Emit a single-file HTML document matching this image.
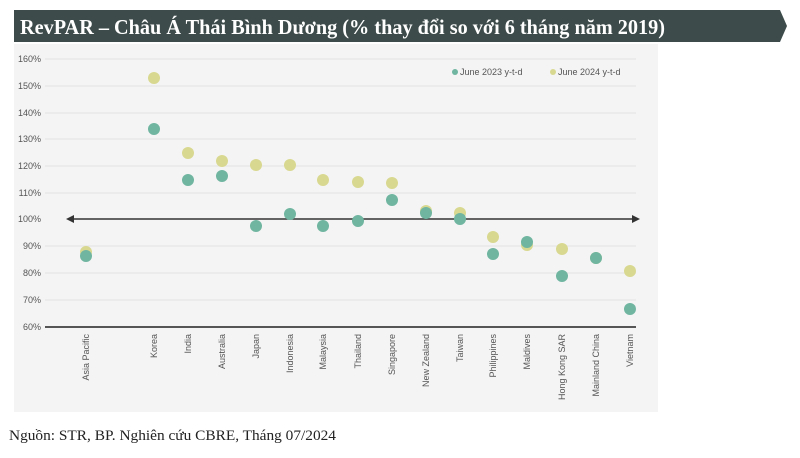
<!DOCTYPE html>
<html><head><meta charset="utf-8"><style>
body{margin:0;width:800px;height:453px;background:#fff;overflow:hidden;font-family:"Liberation Sans",sans-serif}
</style></head><body>
<svg width="800" height="453" xmlns="http://www.w3.org/2000/svg">
<polygon points="14,10 780,10 787,26 780,42 14,42" fill="#3d4b4a"/>
<text x="20" y="34" font-family="Liberation Serif,serif" font-weight="bold" font-size="21" fill="#fff" textLength="645" lengthAdjust="spacingAndGlyphs">RevPAR – Châu Á Thái Bình Dương (% thay đổi so với 6 tháng năm 2019)</text>
<rect x="14" y="44" width="644" height="368" fill="#f4f4f4"/>
<g stroke="#e2e2e2" stroke-width="1">
<line x1="45" x2="636" y1="59" y2="59"/><line x1="45" x2="636" y1="86" y2="86"/><line x1="45" x2="636" y1="113" y2="113"/><line x1="45" x2="636" y1="139" y2="139"/><line x1="45" x2="636" y1="166" y2="166"/><line x1="45" x2="636" y1="193" y2="193"/><line x1="45" x2="636" y1="246" y2="246"/><line x1="45" x2="636" y1="273" y2="273"/><line x1="45" x2="636" y1="300" y2="300"/>
</g>
<line x1="45" x2="636" y1="327" y2="327" stroke="#555" stroke-width="2"/>
<line x1="72" x2="634" y1="219" y2="219" stroke="#333" stroke-width="1.5"/>
<polygon points="66,219 74,215 74,223" fill="#333"/><polygon points="640,219 632,215 632,223" fill="#333"/>
<g font-size="9" fill="#555" text-anchor="end">
<text x="41" y="62">160%</text><text x="41" y="89">150%</text><text x="41" y="116">140%</text><text x="41" y="142">130%</text><text x="41" y="169">120%</text><text x="41" y="196">110%</text><text x="41" y="222">100%</text><text x="41" y="249">90%</text><text x="41" y="276">80%</text><text x="41" y="303">70%</text><text x="41" y="330">60%</text>
</g>
<g font-size="9" fill="#555" text-anchor="end">
<text transform="translate(89,334) rotate(-90)">Asia Pacific</text>
<text transform="translate(157,334) rotate(-90)">Korea</text>
<text transform="translate(191,334) rotate(-90)">India</text>
<text transform="translate(225,334) rotate(-90)">Australia</text>
<text transform="translate(259,334) rotate(-90)">Japan</text>
<text transform="translate(293,334) rotate(-90)">Indonesia</text>
<text transform="translate(326,334) rotate(-90)">Malaysia</text>
<text transform="translate(361,334) rotate(-90)">Thailand</text>
<text transform="translate(395,334) rotate(-90)">Singapore</text>
<text transform="translate(429,334) rotate(-90)">New Zealand</text>
<text transform="translate(463,334) rotate(-90)">Taiwan</text>
<text transform="translate(496,334) rotate(-90)">Philippines</text>
<text transform="translate(530,334) rotate(-90)">Maldives</text>
<text transform="translate(565,334) rotate(-90)">Hong Kong SAR</text>
<text transform="translate(599,334) rotate(-90)">Mainland China</text>
<text transform="translate(633,334) rotate(-90)">Vietnam</text>
</g>
<g fill="#d8d890">
<circle cx="86" cy="252" r="6"/><circle cx="154" cy="78" r="6"/><circle cx="188" cy="153" r="6"/><circle cx="222" cy="161" r="6"/><circle cx="256" cy="165" r="6"/><circle cx="290" cy="165" r="6"/><circle cx="323" cy="180" r="6"/><circle cx="358" cy="182" r="6"/><circle cx="392" cy="183" r="6"/><circle cx="426" cy="211" r="6"/><circle cx="460" cy="213" r="6"/><circle cx="493" cy="237" r="6"/><circle cx="527" cy="245" r="6"/><circle cx="562" cy="249" r="6"/><circle cx="596" cy="258" r="6"/><circle cx="630" cy="271" r="6"/>
</g>
<g fill="#6fb5a0">
<circle cx="86" cy="256" r="6"/><circle cx="154" cy="129" r="6"/><circle cx="188" cy="180" r="6"/><circle cx="222" cy="176" r="6"/><circle cx="256" cy="226" r="6"/><circle cx="290" cy="214" r="6"/><circle cx="323" cy="226" r="6"/><circle cx="358" cy="221" r="6"/><circle cx="392" cy="200" r="6"/><circle cx="426" cy="213" r="6"/><circle cx="460" cy="219" r="6"/><circle cx="493" cy="254" r="6"/><circle cx="527" cy="242" r="6"/><circle cx="562" cy="276" r="6"/><circle cx="596" cy="258" r="6"/><circle cx="630" cy="309" r="6"/>
</g>
<circle cx="455" cy="72" r="3" fill="#6fb5a0"/><text x="460" y="75" font-size="9" fill="#555">June 2023 y-t-d</text>
<circle cx="553" cy="72" r="3" fill="#d8d890"/><text x="558" y="75" font-size="9" fill="#555">June 2024 y-t-d</text>
<text x="9" y="440" font-family="Liberation Serif,serif" font-size="15" fill="#222" textLength="327" lengthAdjust="spacingAndGlyphs">Nguồn: STR, BP. Nghiên cứu CBRE, Tháng 07/2024</text>
</svg>
</body></html>
